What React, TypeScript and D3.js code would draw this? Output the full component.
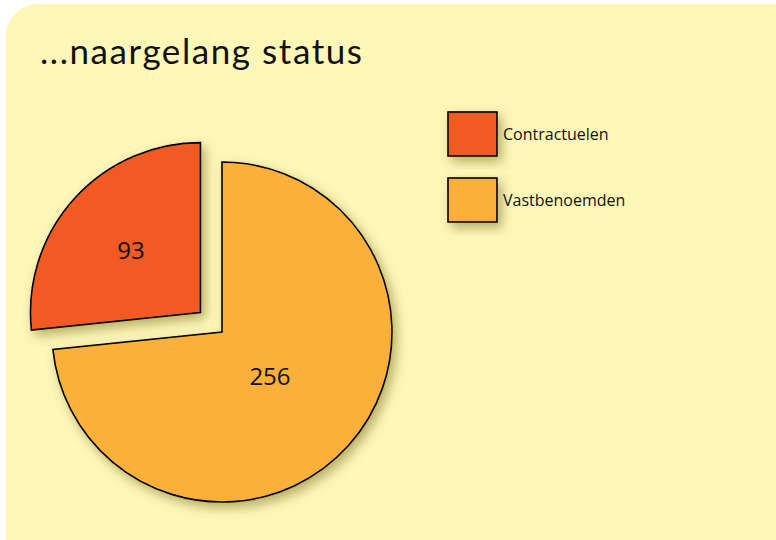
import React from "react";
import * as d3 from "d3";

const categories = ["Contractuelen", "Vastbenoemden"];
const values = [93, 256];
const colors = ["#F15A24", "#FBB03B"];
const labelRadiusFrac = [0.55, 0.38];
const title = "...naargelang status";

export default function App() {
  const width = 776;
  const height = 540;
  const cx = 222;
  const cy = 332;
  const r = 170;
  const explode = 29;

  const total = d3.sum(values);
  const start = -(values[0] / total) * 2 * Math.PI;
  const pie = d3
    .pie<number>()
    .sort(null)
    .value((d) => d)
    .startAngle(start)
    .endAngle(start + 2 * Math.PI);
  const arcs = pie(values);
  const arc = d3.arc<d3.PieArcDatum<number>>().innerRadius(0).outerRadius(r);

  return (
    <svg
      width={width}
      height={height}
      style={{ position: "absolute", left: 0, top: 0 }}
    >
      <defs>
        <filter id="sh" x="-30%" y="-30%" width="160%" height="160%">
          <feDropShadow
            dx="4"
            dy="5"
            stdDeviation="6"
            floodColor="#5a5200"
            floodOpacity="0.45"
          />
        </filter>
      </defs>
      <rect x={0} y={0} width={width} height={height} fill="#ffffff" />
      <rect x={6} y={4} width={900} height={700} rx={32} fill="#FEF7B8" />
      <text
        x={40}
        y={64}
        fontFamily="Lato, 'Open Sans', sans-serif"
        fontWeight={400}
        fontSize={35}
        textLength={322}
        lengthAdjust="spacing"
        fill="#111"
      >
        {title}
      </text>
      <g transform={`translate(${cx},${cy})`}>
        {arcs.map((a, i) => {
          const mid = (a.startAngle + a.endAngle) / 2;
          const off = i === 0 ? explode : 0;
          const dx = Math.sin(mid) * off;
          const dy = -Math.cos(mid) * off;
          return (
            <g key={categories[i]} transform={`translate(${dx},${dy})`}>
              <path
                d={arc(a) || ""}
                fill={colors[i]}
                stroke="#000"
                strokeWidth={1.6}
                strokeLinejoin="miter"
                filter="url(#sh)"
              />
            </g>
          );
        })}
        {arcs.map((a, i) => {
          const mid = (a.startAngle + a.endAngle) / 2;
          const off = i === 0 ? explode : 0;
          const lr = r * labelRadiusFrac[i] + off;
          const x = Math.sin(mid) * lr;
          const y = -Math.cos(mid) * lr;
          return (
            <text
              key={"l" + i}
              x={x}
              y={y}
              textAnchor="middle"
              dominantBaseline="central"
              fontFamily="'Open Sans', sans-serif"
              fontSize={24}
              fill="#111"
            >
              {values[i]}
            </text>
          );
        })}
      </g>
      <g>
        {categories.map((c, i) => (
          <g key={c} transform={`translate(448,${112 + i * 66})`}>
            <rect
              width={49}
              height={44}
              fill={colors[i]}
              stroke="#000"
              strokeWidth={1.6}
              filter="url(#sh)"
            />
            <text
              x={55}
              y={22}
              dominantBaseline="central"
              fontFamily="'Open Sans', sans-serif"
              fontSize={16}
              fill="#111"
            >
              {c}
            </text>
          </g>
        ))}
      </g>
    </svg>
  );
}
